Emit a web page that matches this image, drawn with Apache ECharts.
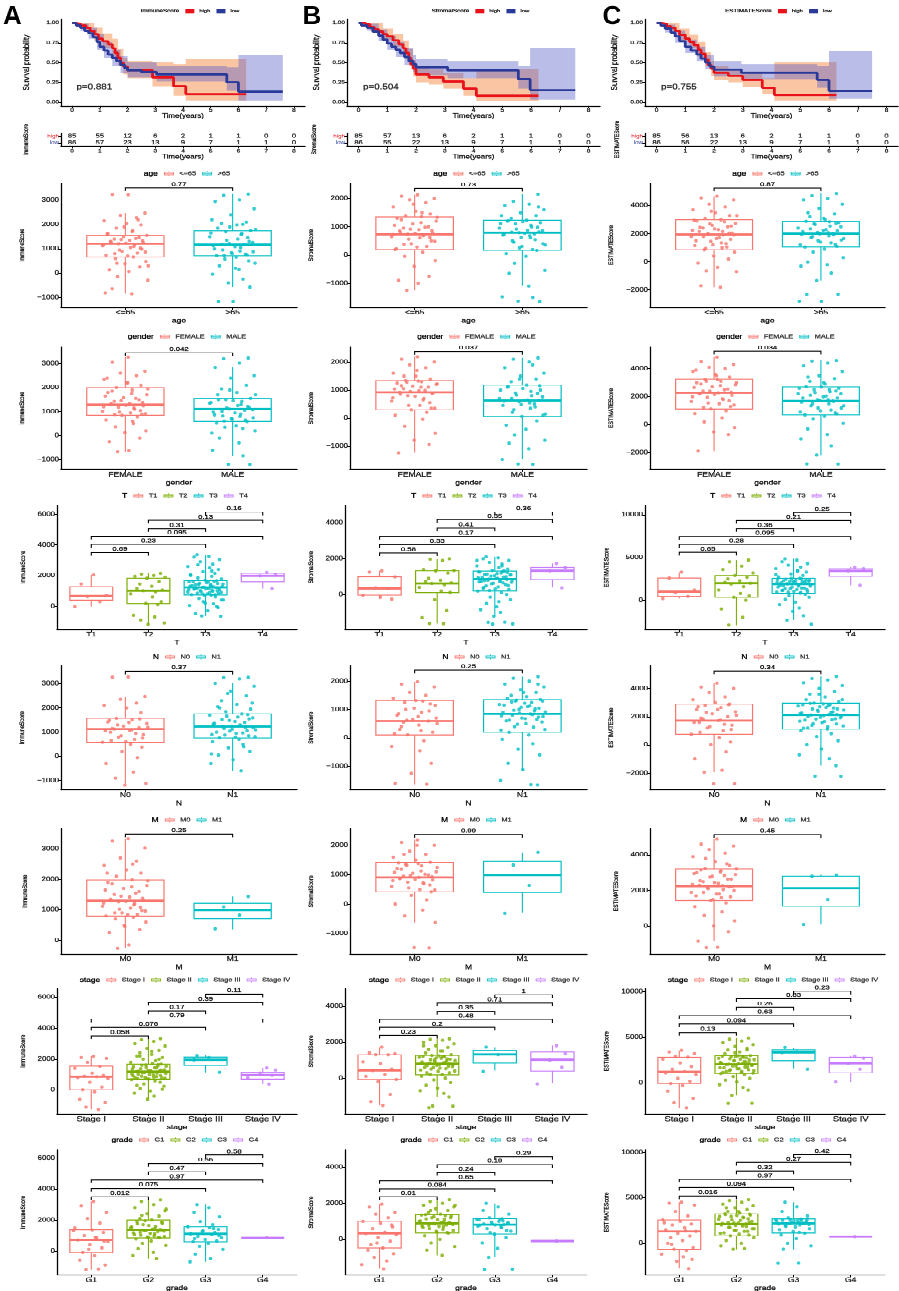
<!DOCTYPE html>
<html>
<head>
<meta charset="utf-8">
<script src="https://cdn.jsdelivr.net/npm/echarts@6/dist/echarts.min.js"></script>
<style>
  html, body { margin: 0; padding: 0; background: #fff; overflow: hidden; }
  #page { position: relative; width: 899px; overflow: hidden; transform-origin: 0 0; background: #fff; }
  .pn { position: absolute; }
</style>
</head>
<body>
<div id="page"></div>
<script>
// ---------- survival curves (time in years, survival probability) ----------
var riskTimes = [0, 1, 2, 3, 4, 5, 6, 7, 8];

var immHigh = [[0,1],[0.15,0.99],[0.3,0.97],[0.5,0.94],[0.65,0.9],[0.8,0.86],[0.95,0.8],[1.1,0.77],[1.3,0.73],[1.45,0.68],[1.55,0.62],[1.65,0.56],[1.75,0.5],[1.85,0.45],[2.0,0.4],[2.9,0.31],[3.66,0.2],[4.1,0.1],[6.28,0.1]];
var immLow = [[0,1],[0.15,0.97],[0.3,0.94],[0.45,0.9],[0.6,0.87],[0.75,0.82],[0.9,0.76],[1.0,0.7],[1.15,0.65],[1.3,0.6],[1.45,0.56],[1.6,0.52],[1.75,0.47],[1.9,0.43],[2.0,0.4],[2.5,0.38],[3.05,0.35],[5.58,0.25],[6.0,0.13],[7.6,0.13]];
var immHighCI = [[0,1,1],[0.3,0.93,1],[0.5,0.88,1],[0.8,0.78,0.94],[1.1,0.68,0.87],[1.45,0.58,0.8],[1.65,0.46,0.67],[1.85,0.35,0.56],[2.0,0.3,0.52],[2.9,0.2,0.5],[3.66,0.08,0.48],[4.1,0.02,0.55],[6.28,0,0]];
var immLowCI = [[0,1,1],[0.3,0.9,0.99],[0.6,0.8,0.94],[0.9,0.66,0.86],[1.15,0.56,0.76],[1.45,0.46,0.66],[1.75,0.37,0.58],[2.0,0.31,0.5],[3.05,0.26,0.46],[5.58,0.14,0.44],[6.0,0.02,0.6],[7.6,0,0]];
var immRiskHigh = [85, 55, 12, 6, 2, 1, 1, 0, 0];
var immRiskLow = [86, 57, 23, 13, 9, 7, 1, 1, 0];

var strHigh = [[0,1],[0.25,0.98],[0.4,0.95],[0.55,0.92],[0.7,0.89],[0.85,0.86],[1.0,0.83],[1.2,0.78],[1.4,0.73],[1.55,0.68],[1.65,0.62],[1.75,0.56],[1.82,0.48],[1.9,0.42],[2.0,0.35],[2.45,0.31],[2.95,0.26],[3.65,0.17],[4.1,0.08],[6.26,0.08]];
var strLow = [[0,1],[0.1,0.97],[0.3,0.94],[0.5,0.89],[0.7,0.84],[0.85,0.79],[1.0,0.74],[1.15,0.7],[1.3,0.66],[1.45,0.62],[1.6,0.57],[1.75,0.52],[1.9,0.48],[2.0,0.44],[3.1,0.4],[5.56,0.29],[5.97,0.15],[7.54,0.15]];
var strHighCI = [[0,1,1],[0.4,0.9,1],[0.85,0.79,0.93],[1.2,0.7,0.86],[1.55,0.59,0.78],[1.75,0.46,0.67],[1.9,0.32,0.53],[2.0,0.25,0.45],[2.45,0.22,0.41],[2.95,0.17,0.37],[3.65,0.08,0.3],[4.1,0.01,0.42],[6.26,0,0]];
var strLowCI = [[0,1,1],[0.3,0.9,0.99],[0.7,0.77,0.92],[1.0,0.66,0.84],[1.3,0.57,0.76],[1.6,0.47,0.68],[1.9,0.38,0.6],[2.0,0.34,0.55],[3.1,0.3,0.52],[5.56,0.17,0.46],[5.97,0.03,0.68],[7.54,0,0]];
var strRiskHigh = [85, 57, 13, 6, 2, 1, 1, 0, 0];
var strRiskLow = [86, 55, 22, 13, 9, 7, 1, 1, 0];

var estHigh = [[0,1],[0.2,0.99],[0.35,0.96],[0.5,0.94],[0.65,0.9],[0.8,0.85],[1.0,0.8],[1.15,0.76],[1.3,0.72],[1.45,0.66],[1.55,0.61],[1.7,0.54],[1.8,0.47],[1.9,0.42],[2.0,0.37],[2.5,0.33],[3.0,0.28],[3.68,0.18],[4.1,0.09],[6.26,0.09]];
var estLow = [[0,1],[0.15,0.97],[0.3,0.93],[0.5,0.88],[0.65,0.83],[0.8,0.77],[1.0,0.7],[1.2,0.65],[1.4,0.6],[1.55,0.55],[1.7,0.5],[1.85,0.45],[2.0,0.41],[2.95,0.37],[5.59,0.28],[6.0,0.14],[7.5,0.14]];
var estHighCI = [[0,1,1],[0.35,0.91,1],[0.8,0.78,0.93],[1.15,0.68,0.85],[1.45,0.57,0.76],[1.7,0.45,0.63],[1.9,0.33,0.52],[2.0,0.28,0.46],[2.5,0.25,0.42],[3.0,0.19,0.38],[3.68,0.1,0.3],[4.1,0.02,0.5],[6.26,0,0]];
var estLowCI = [[0,1,1],[0.3,0.88,0.98],[0.65,0.75,0.9],[1.0,0.62,0.79],[1.4,0.52,0.7],[1.7,0.41,0.6],[2.0,0.32,0.52],[2.95,0.29,0.48],[5.59,0.18,0.46],[6.0,0.04,0.64],[7.5,0,0]];
var estRiskHigh = [85, 56, 13, 6, 2, 1, 1, 0, 0];
var estRiskLow = [86, 56, 22, 13, 9, 7, 1, 1, 0];

var kmP = ['p=0.881', 'p=0.504', 'p=0.755'];

// ---------- groups ----------
var ageGroups = ['<=65', '>65'];
var genderGroups = ['FEMALE', 'MALE'];
var tGroups = ['T1', 'T2', 'T3', 'T4'];
var nGroups = ['N0', 'N1'];
var mGroups = ['M0', 'M1'];
var stageGroups = ['Stage I', 'Stage II', 'Stage III', 'Stage IV'];
var gradeGroups = ['G1', 'G2', 'G3', 'G4'];

// box stats per group: [lower whisker, q1, median, q3, upper whisker]
// ---------- ImmuneScore ----------
var immAgeBox = [[-850,660,1210,1553,2474],[-580,715,1170,1745,3257]];
var immAgePts = [
  [3230,3240,2474,2380,2280,2150,2050,1980,1850,1700,1620,1553,1500,1460,1400,1350,1300,1250,1210,1180,1120,1050,980,900,820,740,660,600,480,380,250,120,60,-150,-300,-650,-850,-820,
   1420,1380,1330,1280,1230,1150,1090,1020,950,870,800,700,1600,1750,1900,2200,400,300],
  [3257,3200,3010,2950,2650,2400,2100,2050,1980,1850,1745,1700,1620,1500,1400,1300,1220,1170,1120,1050,950,880,800,760,715,650,580,400,300,150,-50,-250,-400,-580,-1170,-1180,
   1650,1580,1450,1350,1260,1190,1080,990,910,840,780,730,1800,1900,2000,2200,500,200]];
var immAgeSig = [[1,2,3510,'0.77']];

var immGenderBox = [[-670,850,1290,2000,3270],[-840,590,1110,1550,2840]];
var immGenderPts = [
  [3270,3050,2680,2600,2500,2350,2200,2100,2000,1900,1800,1700,1580,1500,1420,1350,1290,1240,1180,1100,1020,950,900,850,780,650,500,360,200,120,-100,-250,-620,-670,
   1950,1850,1750,1650,1550,1450,1380,1320,1260,1200,1150,1050,980,920,880,2200,2400,600],
  [3230,3200,3020,2840,2500,2400,2100,1950,1800,1700,1550,1500,1420,1350,1250,1180,1110,1060,980,900,820,750,680,590,520,400,350,200,-100,-300,-600,-840,-1190,-1200,
   1500,1450,1380,1300,1220,1150,1080,1020,950,870,800,720,650,610,1700,1900,300,100]];
var immGenderSig = [[1,2,3450,'0.042']];

var immTBox = [[-30,395,660,1275,2040],[-1190,175,1010,1825,2150],[-660,725,1230,1670,3360],[1150,1600,1980,2150,2200]];
var immTPts = [
  [2040,1450,700,620,300,-30],
  [2150,2100,2000,1950,1900,1825,1600,1450,1300,1150,1050,1010,950,800,600,300,175,100,-600,-700,-900,-1100,-1190],
  [3360,3250,3200,3050,2900,2750,2600,2500,2400,2250,2150,2050,1950,1850,1780,1700,1670,1620,1560,1500,1450,1400,1350,1300,1260,1230,1200,1160,1120,1080,1040,1000,950,900,850,800,760,725,680,600,500,400,300,150,50,-100,-300,-500,-660,-640,
   1640,1590,1530,1480,1420,1380,1330,1280,1240,1210,1180,1140,1100,1060,1020,980,930,880,830,790,750,2000,2300,2700,400,200,0],
  [2200,2100,1980,1150]];
var immTSig = [[1,2,3500,'0.69'],[1,3,4040,'0.23'],[1,4,4570,'0.095'],[2,3,5070,'0.31'],[2,4,5610,'0.13'],[3,4,6150,'0.16']];

var immNBox = [[-1120,580,1130,1572,2470],[-600,760,1230,1750,3020]];
var immNPts = [
  [3280,3270,2470,2350,2200,2100,2000,1800,1572,1500,1420,1350,1250,1180,1130,1080,1000,900,800,700,580,500,380,200,-50,-300,-650,-900,-1120,-1190,
   1550,1480,1400,1300,1200,1150,1100,1050,950,850,750,650,600],
  [3260,3250,3200,3020,2900,2700,2500,2300,2150,2050,1950,1850,1750,1700,1620,1550,1480,1400,1330,1280,1230,1180,1120,1060,1000,950,880,820,760,700,600,500,350,200,50,-150,-300,-600,
   1720,1660,1590,1520,1440,1360,1300,1250,1200,1150,1100,1040,970,900,850,800,2000,2200,2600,400,100]];
var immNSig = [[1,2,3520,'0.37']];

var immMBox = [[-260,800,1300,1980,3330],[360,715,990,1210,1440]];
var immMPts = [
  [3330,3250,3020,2700,2600,2450,2300,2200,2100,1980,1900,1800,1700,1600,1500,1420,1350,1300,1260,1200,1120,1050,980,900,850,800,760,700,600,450,350,250,-150,-260,
   1950,1850,1750,1650,1550,1450,1380,1320,1270,1220,1160,1090,1020,960,900,840,2200,2500,500],
  [1440,1100,830,380]];
var immMSig = [[1,2,3480,'0.25']];

var immStageBox = [[-1240,20,870,1543,2195],[-590,717,1196,1674,3326],[1150,1587,1956,2130,2240],[390,717,980,1150,1435]];
var immStagePts = [
  [2195,2100,2050,1800,1543,1400,1100,950,900,870,820,750,500,200,20,-100,-600,-800,-1100,-1240],
  [3326,3250,3150,3000,2850,2700,2550,2400,2300,2200,2100,2000,1900,1800,1720,1674,1620,1560,1500,1440,1380,1320,1260,1220,1196,1160,1120,1080,1030,980,930,880,830,780,740,717,680,600,500,400,250,100,-50,-200,-400,-590,
   1650,1600,1540,1480,1420,1360,1300,1240,1210,1180,1140,1100,1050,1000,950,900,850,800,760,730,2000,2200,2500,300,50],
  [2240,2100,1956,1150],
  [1435,1300,1100,950,800,390]];
var immStageSig = [[1,2,3500,'0.058'],[1,3,4040,'0.076'],[1,4,4585,'0.79'],[2,3,5110,'0.17'],[2,4,5650,'0.39'],[3,4,6200,'0.11']];

var immGradeBox = [[-1200,-100,720,1370,3200],[-500,850,1370,2000,3300],[-700,600,1110,1570,3000],[850,850,850,850,850]];
var immGradePts = [
  [3200,2900,2500,2100,1800,1500,1370,1200,1000,850,720,600,400,200,-100,-300,-600,-900,-1200,-1150,1300,900,650,100],
  [3300,3200,3000,2800,2600,2400,2250,2100,2000,1900,1800,1700,1600,1500,1420,1370,1320,1250,1180,1100,1020,950,900,850,780,650,500,350,150,-100,-300,-500,
   1950,1850,1750,1650,1550,1450,1390,1340,1280,1210,1140,1060,980,920,870,2300,2700],
  [3000,2800,2500,2200,1900,1700,1570,1500,1400,1300,1200,1110,1050,950,850,750,650,600,500,300,100,-200,-500,-700,1450,1250,1000,800],
  [850]];
var immGradeSig = [[1,2,3500,'0.012'],[1,3,4040,'0.075'],[1,4,4585,'0.97'],[2,3,5110,'0.47'],[2,4,5650,'0.56'],[3,4,6200,'0.58']];

// ---------- StromalScore ----------
var strAgeBox = [[-1250,190,733,1350,2130],[-1100,165,790,1230,2150]];
var strAgePts = [
  [2130,2080,2000,1950,1850,1700,1550,1450,1400,1350,1300,1200,1100,1000,950,900,850,780,733,700,650,600,500,400,300,190,100,-50,-200,-400,-750,-900,-1000,-1250,
   1330,1250,1150,1050,980,920,860,800,760,720,680,620,560,480,380,280,220,1500,1800],
  [2150,1900,1800,1750,1600,1500,1400,1300,1230,1200,1150,1100,1000,950,880,820,790,750,700,600,500,400,300,165,50,-50,-300,-550,-650,-1100,-1480,-1500,-1630,-1650,
   1210,1180,1120,1050,980,920,860,810,770,730,680,620,540,450,350,250,190,1400,1700]];
var strAgeSig = [[1,2,2360,'0.73']];

var strGenderBox = [[-1240,296,923,1337,2190],[-1480,60,627,1180,2150]];
var strGenderPts = [
  [2190,2100,2000,1900,1800,1600,1500,1400,1337,1300,1250,1200,1150,1100,1050,980,923,880,800,700,600,450,350,296,200,100,-50,-300,-550,-800,-950,-1240,
   1320,1280,1220,1160,1100,1040,990,950,900,850,780,720,650,550,450,350,1500,1700],
  [2150,2100,2000,1800,1600,1500,1400,1300,1180,1100,1000,900,800,700,650,627,580,500,450,350,200,100,60,-100,-250,-400,-600,-800,-900,-1100,-1480,-1650,-1640,
   1160,1120,1060,1000,950,880,820,760,700,640,600,540,480,400,300,150,1400,1900]];
var strGenderSig = [[1,2,2380,'0.037']];

var strTBox = [[-260,-40,336,990,1330],[-1630,110,617,1330,1980],[-1215,190,860,1310,2110],[390,840,1330,1514,1740]];
var strTPts = [
  [1330,1250,990,380,320,-40,-150,-260],
  [2000,1980,1900,1400,1350,1330,1200,900,800,750,650,617,550,400,200,110,-300,-900,-1300,-1630,-1620],
  [2110,2050,2000,1900,1800,1700,1600,1500,1420,1350,1310,1250,1200,1150,1100,1050,1000,950,900,860,820,780,740,700,650,600,500,400,300,190,100,0,-150,-300,-500,-700,-850,-1000,-1215,-1550,-1560,-1650,-1660,
   1290,1270,1230,1180,1130,1080,1030,980,930,880,840,800,760,720,680,630,560,480,420,350,280,220,1600,1900,-400],
  [1740,1500,1330,380]];
var strTSig = [[1,2,2325,'0.58'],[1,3,2790,'0.33'],[1,4,3255,'0.17'],[2,3,3720,'0.41'],[2,4,4190,'0.35'],[3,4,4615,'0.36']];

var strNBox = [[-1637,107,593,1317,1980],[-1127,200,842,1350,2160]];
var strNPts = [
  [1980,1900,1800,1600,1500,1400,1317,1200,1000,900,800,700,650,593,550,450,300,200,107,-100,-300,-450,-900,-1250,-1637,-1600,
   1300,1250,1150,1050,950,850,750,620,500,400,250,150],
  [2160,2100,2000,1900,1800,1700,1600,1500,1450,1400,1350,1300,1250,1180,1100,1050,1000,950,900,842,800,750,700,650,600,500,400,300,200,100,-50,-200,-400,-600,-900,-1127,-1500,-1650,-1660,
   1330,1300,1270,1220,1160,1120,1080,1020,970,920,870,820,780,730,680,620,560,480,380,280,1600,1900]];
var strNSig = [[1,2,2390,'0.25']];

var strMBox = [[-625,420,909,1420,2190],[-280,400,990,1455,1760]];
var strMPts = [
  [2190,2100,2000,1800,1700,1600,1500,1420,1350,1300,1200,1100,1050,1000,950,909,870,820,750,700,600,500,420,300,150,0,-200,-400,-625,-1480,-1490,
   1400,1380,1320,1250,1180,1130,1080,1020,980,930,890,850,800,720,650,550,480,1700,2000],
  [1760,1330,640,-310]];
var strMSig = [[1,2,2370,'0.99']];

var strStageBox = [[-1518,-74,426,1296,1720],[-1055,185,796,1260,2185],[426,833,1315,1537,1720],[-260,389,1018,1444,1815]];
var strStagePts = [
  [1720,1400,1350,1300,1296,900,800,500,426,200,100,-74,-200,-900,-1300,-1518],
  [2185,2150,2100,2000,1900,1800,1700,1600,1500,1400,1300,1260,1200,1150,1100,1050,1000,950,900,850,796,750,700,650,600,550,500,400,300,185,100,0,-100,-250,-400,-550,-700,-850,-1055,-1550,-1560,-1650,
   1240,1210,1170,1120,1070,1020,970,920,870,820,780,740,690,640,590,520,450,380,300,220,1500,1800],
  [1720,1300,370],
  [1800,1350,1000,600,-320]];
var strStageSig = [[1,2,2370,'0.23'],[1,3,2815,'0.2'],[1,4,3260,'0.48'],[2,3,3705,'0.35'],[2,4,4170,'0.71'],[3,4,4630,'1']];

var strGradeBox = [[-1630,-480,333,1000,1963],[-890,352,890,1370,2200],[-1000,296,815,1150,2000],[-93,-93,-93,-93,-93]];
var strGradePts = [
  [1963,1800,1500,1400,1200,1000,900,800,600,400,333,250,100,-100,-300,-480,-600,-800,-1000,-1200,-1400,-1630,700,-200],
  [2200,2100,2000,1900,1800,1700,1600,1500,1400,1370,1300,1200,1100,1000,950,890,850,800,750,700,600,500,400,352,200,0,-200,-400,-600,-890,
   1350,1320,1260,1200,1140,1080,1020,970,920,870,820,770,720,660,560,450,380,1600,1900],
  [2000,1800,1600,1400,1200,1150,1100,1000,900,850,815,780,700,600,450,296,100,-200,-500,-1000,-1650,-1660,
   1130,1080,1020,960,900,850,800,740,650,500,380],
  [-93]];
var strGradeSig = [[1,2,2370,'0.01'],[1,3,2815,'0.084'],[1,4,3260,'0.65'],[2,3,3705,'0.24'],[2,4,4150,'0.19'],[3,4,4600,'0.29']];

// ---------- ESTIMATEScore ----------
var estAgeBox = [[-1810,857,1952,3000,4667],[-1333,1048,2000,2880,4857]];
var estAgePts = [
  [4667,4550,4400,4100,3900,3700,3500,3300,3100,3000,2900,2750,2600,2500,2400,2300,2150,2050,1952,1900,1800,1700,1600,1450,1300,1150,1000,857,700,400,200,-100,-400,-650,-700,-1700,-1810,
   2950,2850,2700,2550,2450,2350,2250,2150,2050,1980,1900,1800,1650,1500,1350,1200,1050,950,3300,3600],
  [4857,4700,4500,4400,4100,3800,3400,3200,3000,2880,2800,2700,2550,2400,2300,2200,2100,2000,1950,1850,1700,1550,1400,1250,1048,900,700,300,0,-200,-300,-800,-1333,-2300,-2310,-2800,-2790,
   2850,2750,2650,2500,2350,2250,2150,2080,2000,1920,1800,1650,1500,1350,1200,1100,3100,3500]];
var estAgeSig = [[1,2,5250,'0.87']];

var estGenderBox = [[-1882,1130,2282,3247,4824],[-2165,706,1694,2706,4588]];
var estGenderPts = [
  [4824,4500,4300,4100,4000,3800,3600,3400,3247,3100,3000,2850,2700,2550,2400,2282,2200,2100,1950,1800,1650,1500,1300,1130,1000,800,500,200,-200,-500,-700,-1882,
   3200,3100,3000,2900,2800,2650,2500,2400,2320,2250,2150,2000,1850,1700,1550,1400,1250,3500,3900],
  [4588,4550,4400,4200,3800,3500,3300,3100,2900,2706,2600,2500,2350,2200,2050,1900,1800,1694,1600,1500,1350,1200,1000,850,706,600,400,100,-300,-700,-1000,-1500,-2165,-2800,-2790,
   2680,2600,2500,2400,2300,2200,2100,2000,1900,1800,1720,1650,1500,1350,1200,1050,900,780,3000,3400]];
var estGenderSig = [[1,2,5250,'0.034']];

var estTBox = [[200,450,1000,2600,3300],[-2900,350,2000,2900,4700],[-2300,820,1900,2570,4850],[1750,2800,3450,3700,3900]];
var estTPts = [
  [3300,2600,1200,900,450,200],
  [4700,4500,4000,3600,3200,2900,2700,2500,2300,2100,2000,1900,1600,1200,800,500,350,0,-1000,-2000,-2900],
  [4850,4700,4500,4300,4100,3900,3700,3500,3300,3100,2900,2750,2570,2450,2350,2250,2150,2050,1950,1900,1850,1750,1650,1550,1450,1350,1250,1150,1050,950,820,700,550,350,100,-200,-500,-900,-1300,-1800,-2300,-2800,
   2550,2500,2450,2400,2350,2300,2250,2200,2150,2100,2050,2000,1950,1850,1750,1650,1550,1450,1350,1250,1150,1050,950,900,3000,3400],
  [3900,3700,3450,1750]];
var estTSig = [[1,2,5600,'0.65'],[1,3,6530,'0.28'],[1,4,7460,'0.095'],[2,3,8390,'0.36'],[2,4,9320,'0.21'],[3,4,10250,'0.25']];

var estNBox = [[-1929,753,1718,2894,4376],[-1459,1129,2118,2965,4847]];
var estNPts = [
  [4376,4100,4000,3700,3400,3200,3000,2894,2800,2650,2500,2350,2200,2000,1850,1718,1600,1400,1200,1000,753,500,200,0,-500,-1000,-1800,-1929,-2750,-2760,
   2850,2700,2500,2300,2100,1900,1750,1600,1450,1300,1100,900],
  [4847,4700,4600,4400,4200,4000,3800,3600,3400,3200,3050,2965,2850,2750,2650,2550,2450,2350,2250,2150,2118,2050,1950,1850,1750,1650,1500,1350,1200,1129,1000,800,600,300,0,-300,-700,-1000,-1459,-2200,-2210,
   2940,2900,2850,2780,2700,2620,2540,2460,2380,2300,2220,2150,2080,2000,1920,1840,1760,1680,1580,1480,1380,1280,1180,3200,3600]];
var estNSig = [[1,2,5240,'0.34']];

var estMBox = [[-841,1440,2243,3215,4897],[93,1121,2131,2804,2880]];
var estMPts = [
  [4897,4600,4500,4300,4100,3900,3600,3400,3215,3100,3000,2900,2800,2650,2500,2400,2300,2243,2150,2050,1900,1800,1650,1440,1300,1100,800,600,300,0,-300,-841,-1200,-1210,
   3200,3150,3050,2950,2850,2750,2650,2550,2450,2350,2280,2200,2100,2000,1900,1800,1700,1600,1500,3500,3800],
  [2880,2800,1500,100]];
var estMSig = [[1,2,5140,'0.45']];

var estStageBox = [[-2741,-74,1222,2815,3555],[-1370,1037,2037,3000,4926],[1593,2444,3333,3630,3889],[111,1111,2148,2815,2963]];
var estStagePts = [
  [3555,3400,3200,2900,2815,2600,2200,1800,1500,1222,1100,900,500,200,-74,-300,-900,-1700,-2200,-2741],
  [4926,4800,4600,4400,4200,4000,3800,3600,3400,3200,3000,2900,2800,2700,2600,2500,2400,2300,2200,2100,2037,1950,1850,1750,1650,1550,1450,1350,1250,1150,1037,900,700,500,300,100,-200,-500,-800,-1370,-2250,-2260,
   2980,2950,2900,2850,2750,2650,2550,2450,2350,2250,2150,2080,2000,1920,1850,1750,1650,1550,1450,1350,1250,1150,1080,3300,3600],
  [3889,3400,3333,1500],
  [2963,2700,2148,1500,100]];
var estStageSig = [[1,2,5530,'0.13'],[1,3,6460,'0.094'],[1,4,7380,'0.63'],[2,3,8300,'0.26'],[2,4,9230,'0.83'],[3,4,10070,'0.23']];

var estGradeBox = [[-2778,-667,1296,2555,4518],[-667,815,2111,3222,4778],[-667,1111,2185,2667,4518],[740,740,740,740,740]];
var estGradePts = [
  [4518,4400,4200,3500,3000,2555,2400,2100,2000,1700,1500,1296,1100,800,600,300,0,-500,-667,-800,-1200,-1500,-1800,-2000,-2778,2250,1350,-100],
  [4778,4700,4500,4300,4100,3900,3700,3500,3300,3222,3100,2950,2800,2650,2500,2350,2200,2111,2000,1900,1750,1600,1450,1300,1150,1000,815,600,300,0,-300,-600,-667,
   3200,3150,3050,2950,2850,2700,2550,2400,2300,2200,2150,2050,1950,1850,1750,1600,1450,1300,1100,900,3500,3900],
  [4518,4000,3500,3000,2800,2667,2550,2450,2350,2250,2185,2100,2000,1850,1600,1300,1111,900,500,0,-300,-667,-2200,-2210,
   2650,2600,2550,2500,2450,2400,2300,2200,2150,2050,1950,1800,1500,1200],
  [740]];
var estGradeSig = [[1,2,5200,'0.016'],[1,3,6130,'0.094'],[1,4,7020,'0.97'],[2,3,7950,'0.32'],[2,4,8880,'0.27'],[3,4,9730,'0.42']];

// fixed horizontal jitter pattern (fraction of jitter width)
var JIT = [0.12,-0.55,0.83,-0.21,0.47,-0.9,0.05,0.66,-0.38,0.29,-0.74,0.91,-0.08,0.58,-0.47,0.18,-0.63,0.76,-0.29,0.39,-0.97,0.22,0.7,-0.14,0.51,-0.82,0.34,-0.42,0.87,-0.02,0.61,-0.68,0.15,-0.33,0.95,-0.56,0.27,-0.85,0.44,-0.18,0.73,-0.6,0.02,-0.92,0.36,0.64,-0.25,0.85,-0.45,0.1,-0.77,0.31,-0.05,0.54,-0.36,0.97,-0.12,0.43,-0.88,0.68];

// ---------- look & layout ----------
var FONT = '"Liberation Sans", Arial, sans-serif';
var SY = 0.78;                       // the figure is squeezed vertically
function Y(v) { return v / SY; }
function TB(color, extra) {          // thin outline so strokes survive the squeeze
  var o = { color: color, textBorderColor: color, textBorderWidth: 0.35 };
  for (var k in extra) o[k] = extra[k];
  return o;
}
var PAL2 = ['#F8766D', '#00BFC4'];
var PAL4 = ['#F8766D', '#7CAE00', '#00BFC4', '#C77CFF'];
var RED = '#E8121B', BLUE = '#2B3A98';
var KEY = 'path://M1,2.5L19,2.5L19,9.5L1,9.5Z M2.5,4L2.5,8L17.5,8L17.5,4Z M2.5,5.4L17.5,5.4L17.5,6.6L2.5,6.6Z M9.4,0L10.6,0L10.6,2.5L9.4,2.5Z M9.4,9.5L10.6,9.5L10.6,12L9.4,12Z';

var ROWS = {
  age:    { top: 183,  bottom: 307,  leg: 170 },
  gender: { top: 347,  bottom: 469,  leg: 333 },
  T:      { top: 505,  bottom: 629,  leg: 492 },
  N:      { top: 666,  bottom: 790,  leg: 654 },
  M:      { top: 829,  bottom: 954,  leg: 817 },
  stage:  { top: 989,  bottom: 1114, leg: 977 },
  grade:  { top: 1150, bottom: 1275, leg: 1137 }
};

var COLS = [
  { score: 'ImmuneScore', letter: 'A', letterX: 3, km: [61, 305], kmTitle: 30, riskTitle: 32,
    left2: 61, left4: 57, right: 297, titleX: 25 },
  { score: 'StromalScore', letter: 'B', letterX: 302, km: [346.5, 599.5], kmTitle: 20, riskTitle: 30,
    left2: 350, left4: 345, right: 587, titleX: 313 },
  { score: 'ESTIMATEScore', letter: 'C', letterX: 602, km: [644.5, 897.5], kmTitle: 20, riskTitle: 20,
    left2: 650, left4: 645, right: 885, titleX: 620 }
];

var page = document.getElementById('page');
page.style.height = Y(1291) + 'px';
page.style.transform = 'scaleY(' + SY + ')';

function makeDiv(x, y, w, h) {
  var d = document.createElement('div');
  d.className = 'pn';
  d.style.left = x + 'px';
  d.style.top = Y(y) + 'px';
  d.style.width = w + 'px';
  d.style.height = Y(h) + 'px';
  page.appendChild(d);
  return echarts.init(d, null, { devicePixelRatio: 2 });
}

function minus(v) { return v < 0 ? '\u2212' + (-v) : String(v); }

function bandRenderer(ci, fill) {
  return function(params, api) {
    var up = [], dn = [];
    for (var i = 0; i < ci.length - 1; i++) {
      up.push(api.coord([ci[i][0], ci[i][2]]), api.coord([ci[i + 1][0], ci[i][2]]));
      dn.push(api.coord([ci[i][0], ci[i][1]]), api.coord([ci[i + 1][0], ci[i][1]]));
    }
    return { type: 'polygon', shape: { points: up.concat(dn.reverse()) }, style: { fill: fill } };
  };
}

function kmPanel(ci, hi, lo, hiCI, loCI, riskHi, riskLo, pText) {
  var col = COLS[ci];
  var M = 62, x0 = col.km[0], x1 = col.km[1];
  var chart = makeDiv(x0 - M, 0, x1 - x0 + 2 * M, 166);
  var tAxis = function(gi) {
    return {
      type: 'value', gridIndex: gi, min: -0.4, max: 8.4,
      axisLine: { show: true, onZero: false, lineStyle: { color: '#000', width: 1.3 } },
      axisTick: { show: true, customValues: riskTimes, length: Y(2.5), lineStyle: { color: '#000' } },
      axisLabel: TB('#222', { customValues: riskTimes, fontSize: 6.5, margin: gi ? 2.8 : 2 }),
      splitLine: { show: false },
      name: 'Time(years)', nameLocation: 'middle', nameGap: gi ? 10 : 9, nameMoveOverlap: false,
      nameTextStyle: TB('#111', { fontSize: 7.9 })
    };
  };
  chart.setOption({
    animation: false,
    textStyle: { fontFamily: FONT },
    legend: {
      top: Y(8) - 4, left: 'center', itemWidth: 9, itemHeight: Y(4.5), itemGap: 6, selectedMode: false,
      textStyle: TB('#222', { fontSize: 5.8 }),
      data: [{ name: col.score, icon: 'none', textStyle: TB('#111', { fontSize: 6.2 }) },
             { name: 'high', icon: 'rect' }, { name: 'low', icon: 'rect' }]
    },
    grid: [
      { left: M, right: M, top: Y(19), height: Y(87) },
      { left: M, right: M, top: Y(133), height: Y(13) }
    ],
    xAxis: [tAxis(0), tAxis(1)],
    yAxis: [
      {
        type: 'value', gridIndex: 0, min: -0.05, max: 1.05,
        axisLine: { show: true, onZero: false, lineStyle: { color: '#000', width: 1.3 } },
        axisTick: { show: true, customValues: [0, 0.25, 0.5, 0.75, 1], length: 2.5, lineStyle: { color: '#000' } },
        axisLabel: TB('#222', { customValues: [0, 0.25, 0.5, 0.75, 1], fontSize: 6.5, margin: 2,
                     formatter: function(v) { return v.toFixed(2); } }),
        splitLine: { show: false },
        name: 'Survival probability', nameLocation: 'middle', nameRotate: 90, nameGap: col.kmTitle,
        nameTextStyle: TB('#111', { fontSize: 8.5 })
      },
      {
        type: 'category', gridIndex: 1, data: ['low', 'high'],
        axisLine: { show: true, onZero: false, lineStyle: { color: '#000', width: 1.3 } },
        axisTick: { show: true, alignWithLabel: true, length: 2.5, lineStyle: { color: '#000' } },
        axisLabel: { fontSize: 6.2, margin: 2, color: function(v) { return v === 'high' ? RED : BLUE; } },
        name: col.score, nameLocation: 'middle', nameRotate: 90, nameGap: col.riskTitle,
        nameTextStyle: TB('#111', { fontSize: 6.4 })
      }
    ],
    graphic: [{
      type: 'text', x: col.letterX - (x0 - M), y: Y(4), scaleY: 1 / SY,
      style: { text: col.letter, font: 'bold 26px ' + FONT, fill: '#000', verticalAlign: 'top', textVerticalAlign: 'top' }
    }],
    series: [
      { type: 'custom', name: 'highCI', silent: true, data: [[0, 1]], renderItem: bandRenderer(hiCI, 'rgba(246,140,70,0.5)'), z: 1 },
      { type: 'custom', name: 'lowCI', silent: true, data: [[0, 1]], renderItem: bandRenderer(loCI, 'rgba(85,90,200,0.4)'), z: 1 },
      { type: 'line', name: 'high', step: 'end', data: hi, showSymbol: false, z: 3,
        lineStyle: { color: RED, width: 2.8 }, itemStyle: { color: RED } },
      { type: 'line', name: 'low', step: 'end', data: lo, showSymbol: false, z: 4,
        lineStyle: { color: BLUE, width: 2.8 }, itemStyle: { color: BLUE } },
      { type: 'scatter', name: col.score, data: [] },
      { type: 'scatter', name: 'p', data: [[0.14, 0.19]], symbolSize: 1, itemStyle: { color: 'transparent' },
        label: TB('#000', { show: true, position: 'right', distance: 0, formatter: pText, fontSize: 9.8 }) },
      { type: 'scatter', name: 'nHigh', xAxisIndex: 1, yAxisIndex: 1, symbolSize: 1, itemStyle: { color: 'transparent' },
        data: riskTimes.map(function(t, i) { return [t, 1, riskHi[i]]; }),
        label: TB('#000', { show: true, position: 'inside', formatter: function(p) { return p.value[2]; }, fontSize: 7.5 }) },
      { type: 'scatter', name: 'nLow', xAxisIndex: 1, yAxisIndex: 1, symbolSize: 1, itemStyle: { color: 'transparent' },
        data: riskTimes.map(function(t, i) { return [t, 0, riskLo[i]]; }),
        label: TB('#000', { show: true, position: 'inside', formatter: function(p) { return p.value[2]; }, fontSize: 7.5 }) }
    ]
  });
}

function boxRenderer(color, bw) {
  return function(params, api) {
    var x = api.value(0);
    var c = function(v) { return api.coord([x, v]); };
    var lo = c(api.value(1)), q1 = c(api.value(2)), md = c(api.value(3)), q3 = c(api.value(4)), hi = c(api.value(5));
    var hw = api.size([bw, 0])[0] / 2;
    return { type: 'group', children: [
      { type: 'line', shape: { x1: lo[0], y1: lo[1], x2: q1[0], y2: q1[1] }, style: { stroke: color, lineWidth: 1.1 } },
      { type: 'line', shape: { x1: q3[0], y1: q3[1], x2: hi[0], y2: hi[1] }, style: { stroke: color, lineWidth: 1.1 } },
      { type: 'rect', shape: { x: q3[0] - hw, y: q3[1], width: 2 * hw, height: q1[1] - q3[1] },
        style: { fill: '#fff', stroke: color, lineWidth: 1.2 } },
      { type: 'line', shape: { x1: md[0] - hw, y1: md[1], x2: md[0] + hw, y2: md[1] }, style: { stroke: color, lineWidth: 2.8 } }
    ] };
  };
}

function sigRenderer(sig) {
  return function(params, api) {
    var a = api.coord([api.value(0), api.value(2)]);
    var b = api.coord([api.value(1), api.value(2)]);
    var tip = Y(3.2);
    return { type: 'group', children: [
      { type: 'polyline', shape: { points: [[a[0], a[1] + tip], [a[0], a[1]], [b[0], b[1]], [b[0], b[1] + tip]] },
        style: { stroke: '#000', lineWidth: 1.1, fill: null } },
      { type: 'text', x: (a[0] + b[0]) / 2, y: a[1] - 0.5,
        style: { text: sig[params.dataIndex][3], fill: '#111', stroke: '#111', lineWidth: 0.35, fontSize: 7.7, fontFamily: FONT,
                 align: 'center', textAlign: 'center', verticalAlign: 'bottom', textVerticalAlign: 'bottom' } }
    ] };
  };
}

function boxPanel(ci, rowKey, groups, box, pts, sig, range, ticks) {
  var col = COLS[ci], row = ROWS[rowKey];
  var n = groups.length;
  var x0 = n === 2 ? col.left2 : col.left4, x1 = col.right;
  var M = 64, top = row.leg - 8, bot = row.bottom + 24;
  var chart = makeDiv(x0 - M, top, x1 - x0 + 2 * M, bot - top);
  var pal = n === 2 ? PAL2 : PAL4;
  var bw = n === 2 ? 0.72 : 0.75, jw = n === 2 ? 0.22 : 0.32;
  var idx = groups.map(function(g, i) { return i + 1; });
  var series = [{ type: 'scatter', name: rowKey, data: [] }];
  groups.forEach(function(g, gi) {
    series.push({ type: 'custom', name: g, itemStyle: { color: pal[gi] }, silent: true, z: 2,
                  data: [[gi + 1].concat(box[gi])], renderItem: boxRenderer(pal[gi], bw) });
  });
  groups.forEach(function(g, gi) {
    series.push({ type: 'scatter', name: g, symbolSize: [3.5, Y(3.3)], itemStyle: { color: pal[gi] }, z: 3,
                  data: pts[gi].map(function(v, k) { return [gi + 1 + JIT[(k + 7 * gi) % JIT.length] * jw, v]; }) });
  });
  series.push({ type: 'custom', name: 'sig', silent: true, z: 4,
                data: sig.map(function(s) { return [s[0], s[1], s[2]]; }), renderItem: sigRenderer(sig) });

  chart.setOption({
    animation: false,
    textStyle: { fontFamily: FONT },
    legend: {
      top: Y(row.leg - top) - 5, left: 'center', itemWidth: 11, itemHeight: 6.6, itemGap: 6, selectedMode: false,
      textStyle: TB('#333', { fontSize: 7.3 }),
      data: [{ name: rowKey, icon: 'none', textStyle: TB('#000', { fontSize: 8.4 }) }].concat(
        groups.map(function(g) { return { name: g, icon: KEY }; }))
    },
    grid: { left: M, right: M, top: Y(row.top - top), height: Y(row.bottom - row.top) },
    xAxis: {
      type: 'value', min: 0.4, max: n + 0.6,
      axisLine: { show: true, onZero: false, lineStyle: { color: '#000', width: 1.3 } },
      axisTick: { show: true, customValues: idx, length: Y(2.5), lineStyle: { color: '#000' } },
      axisLabel: TB('#222', { customValues: idx, fontSize: rowKey === 'stage' ? 9.3 : 8.5, margin: 2.4,
                   formatter: function(v) { return groups[Math.round(v) - 1]; } }),
      splitLine: { show: false },
      name: rowKey, nameLocation: 'middle', nameGap: 13, nameMoveOverlap: false,
      nameTextStyle: TB('#111', { fontSize: 8.5 })
    },
    yAxis: {
      type: 'value', min: range[0], max: range[1],
      axisLine: { show: true, onZero: false, lineStyle: { color: '#000', width: 1.3 } },
      axisTick: { show: true, customValues: ticks, length: 3, lineStyle: { color: '#000' } },
      axisLabel: TB('#222', { customValues: ticks, fontSize: 7.8, margin: 2, formatter: minus }),
      splitLine: { show: false },
      name: col.score, nameLocation: 'middle', nameRotate: 90, nameGap: x0 - col.titleX - 3.5,
      nameTextStyle: TB('#111', { fontSize: 6.8 })
    },
    series: series
  });
}

// ---------- build ----------
kmPanel(0, immHigh, immLow, immHighCI, immLowCI, immRiskHigh, immRiskLow, kmP[0]);
kmPanel(1, strHigh, strLow, strHighCI, strLowCI, strRiskHigh, strRiskLow, kmP[1]);
kmPanel(2, estHigh, estLow, estHighCI, estLowCI, estRiskHigh, estRiskLow, kmP[2]);

var imm2 = [-1000, 0, 1000, 2000, 3000], imm4 = [0, 2000, 4000, 6000];
var str2 = [-1000, 0, 1000, 2000], str4 = [0, 2000, 4000];
var est2 = [-2000, 0, 2000, 4000], est4 = [0, 5000, 10000];

boxPanel(0, 'age', ageGroups, immAgeBox, immAgePts, immAgeSig, [-1410, 3700], imm2);
boxPanel(0, 'gender', genderGroups, immGenderBox, immGenderPts, immGenderSig, [-1400, 3680], imm2);
boxPanel(0, 'T', tGroups, immTBox, immTPts, immTSig, [-1520, 6590], imm4);
boxPanel(0, 'N', nGroups, immNBox, immNPts, immNSig, [-1385, 3740], imm2);
boxPanel(0, 'M', mGroups, immMBox, immMPts, immMSig, [-440, 3650], [0, 1000, 2000, 3000]);
boxPanel(0, 'stage', stageGroups, immStageBox, immStagePts, immStageSig, [-1525, 6540], imm4);
boxPanel(0, 'grade', gradeGroups, immGradeBox, immGradePts, immGradeSig, [-1525, 6540], imm4);

boxPanel(1, 'age', ageGroups, strAgeBox, strAgePts, strAgeSig, [-1850, 2540], str2);
boxPanel(1, 'gender', genderGroups, strGenderBox, strGenderPts, strGenderSig, [-1830, 2530], str2);
boxPanel(1, 'T', tGroups, strTBox, strTPts, strTSig, [-1955, 4990], str4);
boxPanel(1, 'N', nGroups, strNBox, strNPts, strNSig, [-1830, 2540], str2);
boxPanel(1, 'M', mGroups, strMBox, strMPts, strMSig, [-1690, 2560], str2);
boxPanel(1, 'stage', stageGroups, strStageBox, strStagePts, strStageSig, [-1980, 4960], str4);
boxPanel(1, 'grade', gradeGroups, strGradeBox, strGradePts, strGradeSig, [-1960, 4980], str4);

boxPanel(2, 'age', ageGroups, estAgeBox, estAgePts, estAgeSig, [-3230, 5590], est2);
boxPanel(2, 'gender', genderGroups, estGenderBox, estGenderPts, estGenderSig, [-3180, 5530], est2);
boxPanel(2, 'T', tGroups, estTBox, estTPts, estTSig, [-3400, 11100], est4);
boxPanel(2, 'N', nGroups, estNBox, estNPts, estNSig, [-3180, 5600], est2);
boxPanel(2, 'M', mGroups, estMBox, estMPts, estMSig, [-1555, 5460], [0, 2000, 4000]);
boxPanel(2, 'stage', stageGroups, estStageBox, estStagePts, estStageSig, [-3390, 10330], est4);
boxPanel(2, 'grade', gradeGroups, estGradeBox, estGradePts, estGradeSig, [-3460, 10290], est4);
</script>
</body>
</html>
